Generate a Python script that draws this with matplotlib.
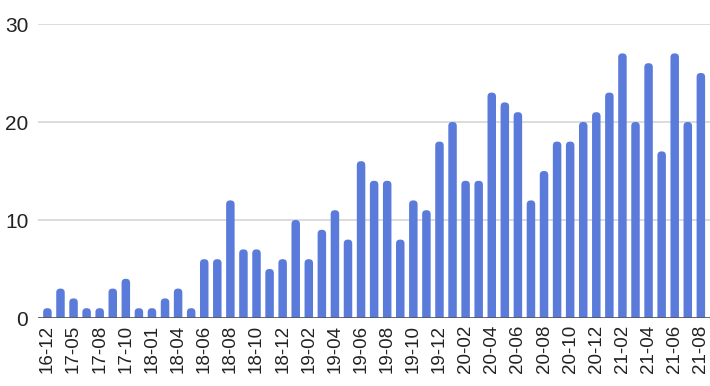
import matplotlib.pyplot as plt
from matplotlib.patches import FancyBboxPatch

plt.rcParams['font.family'] = ['Liberation Sans', 'DejaVu Sans']

months = ['16-12', '17-02', '17-05', '17-07', '17-08', '17-09', '17-10', '17-12',
          '18-01', '18-03', '18-04', '18-05', '18-06', '18-07', '18-08', '18-09',
          '18-10', '18-11', '18-12', '19-01', '19-02', '19-03', '19-04', '19-05',
          '19-06', '19-07', '19-08', '19-09', '19-10', '19-11', '19-12', '20-01',
          '20-02', '20-03', '20-04', '20-05', '20-06', '20-07', '20-08', '20-09',
          '20-10', '20-11', '20-12', '21-01', '21-02', '21-03', '21-04', '21-05',
          '21-06', '21-07', '21-08']
counts = [1, 3, 2, 1, 1, 3, 4, 1, 1, 2, 3, 1, 6, 6, 12, 7, 7, 5, 6, 10,
          6, 9, 11, 8, 16, 14, 14, 8, 12, 11, 18, 20, 14, 14, 23, 22, 21, 12, 15, 18,
          18, 20, 21, 23, 27, 20, 26, 17, 27, 20, 25]

bar_color = '#5b7bdb'

fig = plt.figure(figsize=(7.1, 3.86), dpi=100)
ax = fig.add_axes([38 / 710, 68 / 386, 672 / 710, 294 / 386])

x = list(range(len(months)))
bars = ax.bar(x, counts, width=0.65, color=bar_color, zorder=3)

# swap plain bars for ones with rounded tops
for rect in bars:
    x0, w, h = rect.get_x(), rect.get_width(), rect.get_height()
    rect.set_visible(False)
    ax.add_patch(FancyBboxPatch((x0, -1), w, h + 1,
                                boxstyle='round,pad=0,rounding_size=0.3',
                                mutation_aspect=1.35,
                                facecolor=bar_color, edgecolor='none', zorder=3))

ax.set_xlim(-0.72, 50.7)
ax.set_ylim(0, 30)
ax.set_yticks([0, 10, 20, 30])
ax.set_xticks(x[::2])
ax.set_xticklabels(months[::2], rotation=90)

ax.grid(axis='y', color='#d6d6d6', linewidth=1.2, zorder=0)
ax.axhline(0, color='#555555', linewidth=1.2, zorder=4)
for s in ax.spines.values():
    s.set_visible(False)
ax.tick_params(axis='both', length=0, colors='#222222')
ax.tick_params(axis='y', labelsize=15, pad=7)
ax.tick_params(axis='x', labelsize=13.5, pad=5)

plt.savefig('out.png', dpi=100)
